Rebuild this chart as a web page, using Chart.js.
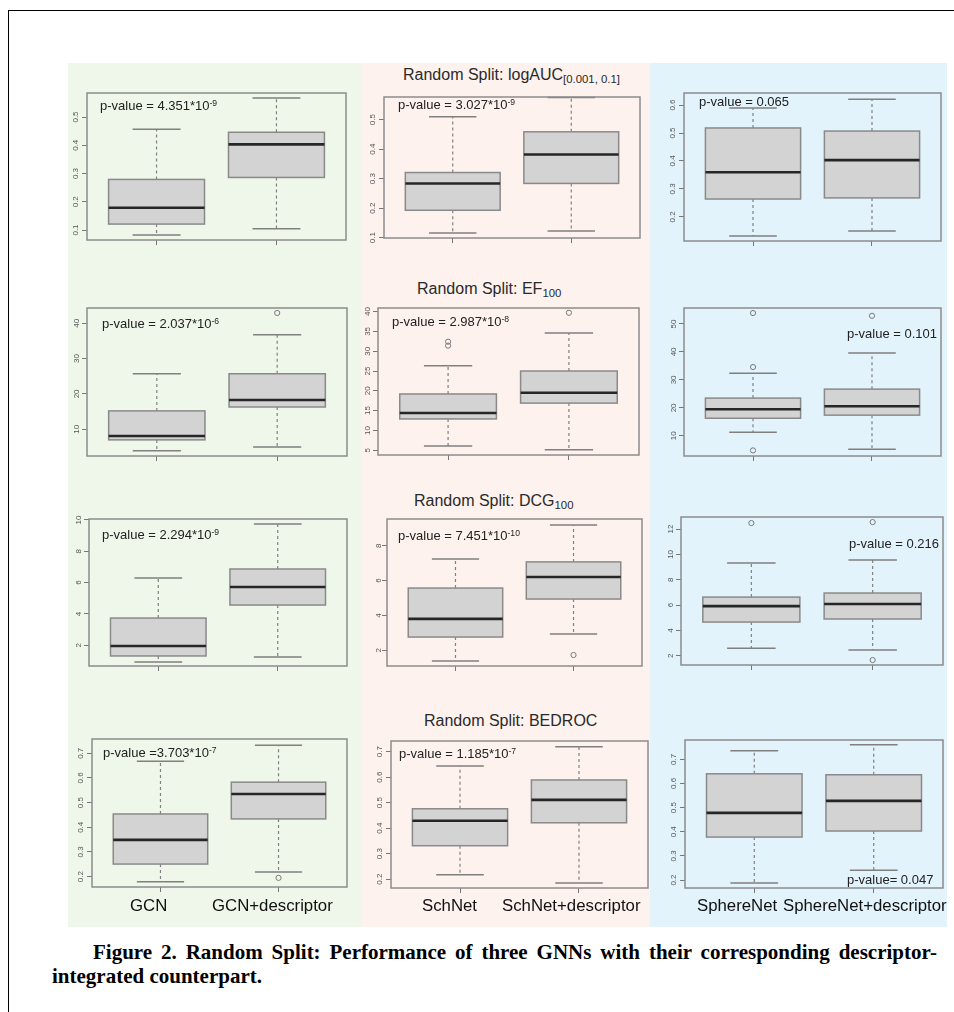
<!DOCTYPE html>
<html>
<head>
<meta charset="utf-8">
<script src="https://cdn.jsdelivr.net/npm/chart.js@4.4.0/dist/chart.umd.min.js"></script>
<style>
  body { margin:0; background:#fff; width:954px; height:1012px; position:relative; overflow:hidden;
         font-family:"Liberation Sans", Arial, sans-serif; }
  .frame { position:absolute; left:8px; top:10px; width:1000px; height:1100px;
           border-left:1.5px solid #000; border-top:1.5px solid #000; }
  .col { position:absolute; top:63px; height:864px; }
  canvas.panel { position:absolute; }
  .title { position:absolute; font-size:16px; line-height:1; color:#2a2a2a; white-space:nowrap; }
  .pval { position:absolute; font-size:13px; line-height:1; color:#222; white-space:nowrap; }
  .title sub { font-size:71%; vertical-align:-0.25em; color:#2a2a2a; }
  .pval sup { font-size:66%; vertical-align:0.5em; color:#222; }
  .cat { position:absolute; font-size:16.8px; line-height:1; color:#111; white-space:nowrap; }
  .cap { position:absolute; font-family:"Liberation Serif","Times New Roman",serif; font-weight:bold;
         font-size:21px; line-height:1; color:#000; white-space:nowrap; }
</style>
</head>
<body>
<div class="frame"></div>
<div class="col" style="left:68px;width:294px;background:#eef7e9;"></div>
<div class="col" style="left:362px;width:288px;background:#fdf2ee;"></div>
<div class="col" style="left:650px;width:297px;background:#e2f3fb;"></div>

<div class="title" style="left:403px;top:67px;">Random Split: logAUC<sub>[0.001, 0.1]</sub></div>
<div class="title" style="left:417px;top:281px;">Random Split: EF<sub>100</sub></div>
<div class="title" style="left:414px;top:493px;">Random Split: DCG<sub>100</sub></div>
<div class="title" style="left:424px;top:713px;">Random Split: BEDROC</div>

<div class="cap" id="cap1" style="left:93px;top:942px;">Figure 2. Random Split: Performance of three GNNs with their corresponding descriptor-</div>
<div class="cap" style="left:52px;top:966px;">integrated counterpart.</div>

<script>
// box stats: [lower whisker, Q1, median, Q3, upper whisker]
const gcnLabels = ["GCN", "GCN+descriptor"];
const schnetLabels = ["SchNet", "SchNet+descriptor"];
const sphereLabels = ["SphereNet", "SphereNet+descriptor"];

// logAUC[0.001, 0.1]
const gcnLogAUC        = [0.082, 0.121, 0.179, 0.279, 0.457];
const gcnDescLogAUC    = [0.104, 0.286, 0.403, 0.446, 0.567];
const schnetLogAUC     = [0.116, 0.193, 0.284, 0.321, 0.510];
const schnetDescLogAUC = [0.123, 0.284, 0.382, 0.459, 0.575];
const sphereLogAUC     = [0.132, 0.264, 0.360, 0.518, 0.589];
const sphereDescLogAUC = [0.150, 0.268, 0.403, 0.507, 0.621];

// EF100
const gcnEF        = [3.9, 7.0, 8.1, 15.2, 25.7];
const gcnDescEF    = [5.0, 16.3, 18.3, 25.7, 36.7];
const schnetEF     = [6.1, 12.9, 14.4, 19.2, 26.3];
const schnetDescEF = [5.1, 16.9, 19.5, 25.0, 34.6];
const sphereEF     = [11.3, 16.3, 19.5, 23.5, 32.4];
const sphereDescEF = [5.2, 17.4, 20.6, 26.7, 39.6];
const gcnDescEFOut    = [42.9];
const schnetEFOut     = [32.4, 31.4];
const schnetDescEFOut = [39.7];
const sphereEFOut     = [53.9, 34.6, 4.8];
const sphereDescEFOut = [52.9];

// DCG100
const gcnDCG        = [0.93, 1.32, 1.96, 3.74, 6.30];
const gcnDescDCG    = [1.25, 4.57, 5.72, 6.87, 9.74];
const schnetDCG     = [1.39, 2.76, 3.80, 5.57, 7.24];
const schnetDescDCG = [2.94, 4.94, 6.20, 7.07, 9.19];
const sphereDCG     = [2.60, 4.66, 5.92, 6.63, 9.32];
const sphereDescDCG = [2.45, 4.90, 6.08, 6.95, 9.55];
const schnetDescDCGOut = [1.73];
const sphereDCGOut     = [12.47];
const sphereDescDCGOut = [12.55, 1.66];

// BEDROC
const gcnBEDROC        = [0.179, 0.251, 0.349, 0.454, 0.668];
const gcnDescBEDROC    = [0.219, 0.434, 0.535, 0.583, 0.733];
const schnetBEDROC     = [0.217, 0.331, 0.429, 0.476, 0.644];
const schnetDescBEDROC = [0.185, 0.421, 0.511, 0.589, 0.719];
const sphereBEDROC     = [0.188, 0.378, 0.478, 0.640, 0.735];
const sphereDescBEDROC = [0.241, 0.403, 0.528, 0.636, 0.760];
const gcnDescBEDROCOut = [0.195];

// y tick labels
const ticksLogAUC       = [0.1, 0.2, 0.3, 0.4, 0.5];
const ticksLogAUCSphere = [0.2, 0.3, 0.4, 0.5, 0.6];
const ticksEFGcn        = [10, 20, 30, 40];
const ticksEFSchnet     = [5, 10, 15, 20, 25, 30, 35, 40];
const ticksEFSphere     = [10, 20, 30, 40, 50];
const ticksDCGGcn       = [2, 4, 6, 8, 10];
const ticksDCGSchnet    = [2, 4, 6, 8];
const ticksDCGSphere    = [2, 4, 6, 8, 10, 12];
const ticksBEDROC       = [0.2, 0.3, 0.4, 0.5, 0.6, 0.7];

// axis limits of each panel
const yLimits = [
  [0.0646, 0.585], [0.099, 0.577], [0.114, 0.643],
  [2.44, 44.3], [3.8, 40.9], [2.8, 55.7],
  [0.68, 10.06], [1.10, 9.53], [1.27, 12.95],
  [0.158, 0.758], [0.165, 0.742], [0.167, 0.780]
];

const pValues = [
  "4.351*10^-9", "3.027*10^-9", "0.065",
  "2.037*10^-6", "2.987*10^-8", "0.101",
  "2.294*10^-9", "7.451*10^-10", "0.216",
  "3.703*10^-7", "1.185*10^-7", "0.047"
];
const pPrefix = ["p-value = ", "p-value = ", "p-value = ",
                 "p-value = ", "p-value = ", "p-value = ",
                 "p-value = ", "p-value = ", "p-value = ",
                 "p-value =", "p-value = ", "p-value= "];

// panels: plot box [left, top, right, bottom] on the page
const panels = [
  {rect:[87, 93, 346, 240],  stats:[gcnLogAUC, gcnDescLogAUC],       out:[[], []], ticks:ticksLogAUC, pv:[100, 99]},
  {rect:[384, 97, 640, 238], stats:[schnetLogAUC, schnetDescLogAUC], out:[[], []], ticks:ticksLogAUC, pv:[398, 98]},
  {rect:[684, 93, 941, 241], stats:[sphereLogAUC, sphereDescLogAUC], out:[[], []], ticks:ticksLogAUCSphere, pv:[699, 95]},
  {rect:[87, 308, 347, 456], stats:[gcnEF, gcnDescEF],       out:[[], gcnDescEFOut], ticks:ticksEFGcn, pv:[102, 317]},
  {rect:[378, 308, 639, 455], stats:[schnetEF, schnetDescEF], out:[schnetEFOut, schnetDescEFOut], ticks:ticksEFSchnet, pv:[392, 315]},
  {rect:[684, 308, 941, 456], stats:[sphereEF, sphereDescEF], out:[sphereEFOut, sphereDescEFOut], ticks:ticksEFSphere, pv:[847, 327]},
  {rect:[89, 519, 347, 666], stats:[gcnDCG, gcnDescDCG],       out:[[], []], ticks:ticksDCGGcn, pv:[102, 528]},
  {rect:[387, 519, 642, 666], stats:[schnetDCG, schnetDescDCG], out:[[], schnetDescDCGOut], ticks:ticksDCGSchnet, pv:[398, 529]},
  {rect:[681, 517, 943, 665], stats:[sphereDCG, sphereDescDCG], out:[sphereDCGOut, sphereDescDCGOut], ticks:ticksDCGSphere, pv:[849, 537]},
  {rect:[92, 739, 347, 887], stats:[gcnBEDROC, gcnDescBEDROC],       out:[[], gcnDescBEDROCOut], ticks:ticksBEDROC, pv:[103, 746]},
  {rect:[391, 741, 648, 888], stats:[schnetBEDROC, schnetDescBEDROC], out:[[], []], ticks:ticksBEDROC, pv:[399, 747]},
  {rect:[685, 740, 943, 888], stats:[sphereBEDROC, sphereDescBEDROC], out:[[], []], ticks:ticksBEDROC, pv:[847, 873]}
];

// category names under the bottom row
const catLabels = [gcnLabels, schnetLabels, sphereLabels];
const catLeft = [[130, 212], [422, 502], [697, 783]];

function boxPlugin(stats) {
  return {
    id: 'boxes',
    beforeDatasetsDraw(chart) {
      const {ctx, scales: {x, y}} = chart;
      stats.forEach((s, i) => {
        const cx = x.getPixelForValue(i + 1);
        const hw = x.getPixelForValue(i + 1.4) - cx;
        const sw = hw / 2;
        const [lo, q1, md, q3, hi] = s.map(v => y.getPixelForValue(v));
        ctx.save();
        ctx.strokeStyle = '#808080';
        ctx.lineWidth = 1.2;
        ctx.setLineDash([3, 3]);
        ctx.beginPath();
        ctx.moveTo(cx, q3); ctx.lineTo(cx, hi);
        ctx.moveTo(cx, q1); ctx.lineTo(cx, lo);
        ctx.stroke();
        ctx.setLineDash([]);
        ctx.lineWidth = 1.5;
        ctx.beginPath();
        ctx.moveTo(cx - sw, hi); ctx.lineTo(cx + sw, hi);
        ctx.moveTo(cx - sw, lo); ctx.lineTo(cx + sw, lo);
        ctx.stroke();
        ctx.fillStyle = '#d3d3d3';
        ctx.fillRect(cx - hw, q3, 2 * hw, q1 - q3);
        ctx.strokeStyle = '#8a8a8a';
        ctx.strokeRect(cx - hw, q3, 2 * hw, q1 - q3);
        ctx.strokeStyle = '#262626';
        ctx.lineWidth = 2.6;
        ctx.beginPath();
        ctx.moveTo(cx - hw, md); ctx.lineTo(cx + hw, md);
        ctx.stroke();
        ctx.restore();
      });
    },
    afterDraw(chart) {
      const {ctx, chartArea: a} = chart;
      ctx.save();
      ctx.strokeStyle = '#8c8c8c';
      ctx.lineWidth = 1.5;
      ctx.strokeRect(a.left, a.top, a.right - a.left, a.bottom - a.top);
      ctx.restore();
    }
  };
}

panels.forEach((p, k) => {
  const [L, T, R, B] = p.rect;
  const axisW = 30, axisH = 10;
  const padL = 40, padR = 30, padT = 8, padB = 16;
  const W = R - L + padL + padR, H = B - T + padT + padB;
  const cv = document.createElement('canvas');
  cv.className = 'panel';
  cv.width = W; cv.height = H;
  cv.style.left = (L - padL) + 'px'; cv.style.top = (T - padT) + 'px';
  cv.style.width = W + 'px'; cv.style.height = H + 'px';
  document.body.appendChild(cv);

  const points = [];
  p.out.forEach((arr, i) => arr.forEach(v => points.push({x: i + 1, y: v})));

  new Chart(cv, {
    type: 'scatter',
    data: {
      datasets: [{
        data: points,
        pointStyle: 'circle',
        radius: 2.6,
        borderWidth: 1,
        borderColor: '#7a7a7a',
        backgroundColor: 'rgba(0,0,0,0)'
      }]
    },
    options: {
      responsive: false,
      animation: false,
      events: [],
      layout: {padding: {left: padL - axisW, right: padR, top: padT, bottom: padB - axisH}},
      plugins: {legend: {display: false}, tooltip: {enabled: false}},
      scales: {
        x: {
          type: 'linear', min: 0.42, max: 2.58,
          afterBuildTicks: s => { s.ticks = [{value: 1}, {value: 2}]; },
          afterFit: s => { s.height = axisH; s.paddingLeft = 0; s.paddingRight = 0; },
          grid: {drawOnChartArea: false, drawTicks: true, tickLength: 5, color: '#777'},
          border: {display: false},
          ticks: {display: false}
        },
        y: {
          min: yLimits[k][0], max: yLimits[k][1],
          afterBuildTicks: s => { s.ticks = p.ticks.map(v => ({value: v})); },
          afterFit: s => { s.width = axisW; s.paddingTop = 0; s.paddingBottom = 0; },
          grid: {drawOnChartArea: false, drawTicks: true, tickLength: 5, color: '#777'},
          border: {display: false},
          ticks: {
            minRotation: 90, maxRotation: 90, crossAlign: 'center', padding: 1,
            color: '#555', font: {size: 8, family: '"Liberation Sans", Arial, sans-serif'},
            callback: v => String(v)
          }
        }
      }
    },
    plugins: [boxPlugin(p.stats)]
  });

  // p-value annotation
  const d = document.createElement('div');
  d.className = 'pval';
  d.style.left = p.pv[0] + 'px'; d.style.top = p.pv[1] + 'px';
  const parts = pValues[k].split('^');
  d.textContent = pPrefix[k] + parts[0];
  if (parts[1]) {
    const sup = document.createElement('sup');
    sup.textContent = parts[1];
    d.appendChild(sup);
  }
  document.body.appendChild(d);
});

catLabels.forEach((names, c) => {
  names.forEach((name, i) => {
    const d = document.createElement('div');
    d.className = 'cat';
    d.style.left = catLeft[c][i] + 'px';
    d.style.top = '898px';
    d.textContent = name;
    document.body.appendChild(d);
  });
});

// stretch the first caption line to the full measure
const cap1 = document.getElementById('cap1');
const gaps = cap1.textContent.split(' ').length - 1;
const extra = (844 - cap1.getBoundingClientRect().width) / gaps;
cap1.style.wordSpacing = extra + 'px';
</script>
</body>
</html>
